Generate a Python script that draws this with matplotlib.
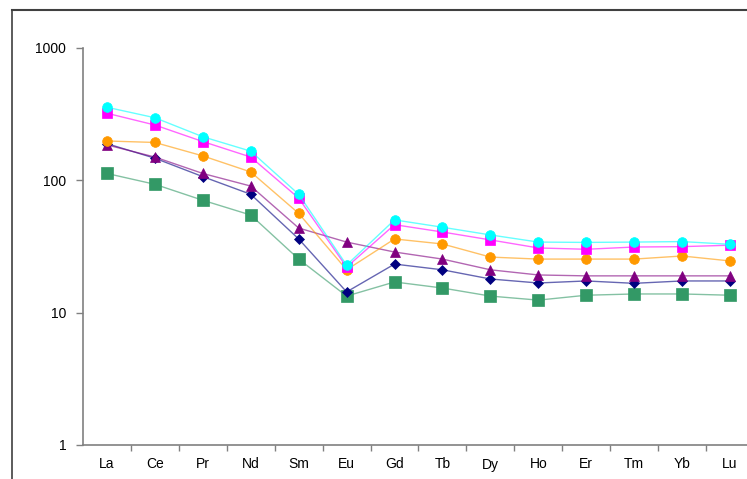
import matplotlib
matplotlib.use("Agg")
import matplotlib.pyplot as plt
from matplotlib.lines import Line2D
import numpy as np

plt.rcParams["font.family"] = ["Liberation Sans", "DejaVu Sans"]

# ── data: chondrite-normalised REE ─────────────────────────────────────────────
elements = ["La", "Ce", "Pr", "Nd", "Sm", "Eu", "Gd", "Tb", "Dy", "Ho", "Er", "Tm", "Yb", "Lu"]

green  = [112, 92.8, 70.3, 54.4, 25.3, 13.3, 17.0, 15.3, 13.3, 12.4, 13.5, 13.8, 13.8, 13.5]
navy   = [188, 146, 106, 78, 35.9, 14.3, 23.2, 21.0, 17.9, 16.7, 17.3, 16.6, 17.3, 17.3]
purple = [184, 149, 112, 90, 43.4, 34.0, 28.6, 25.3, 21.0, 19.2, 18.9, 18.9, 18.9, 18.9]
orange = [197, 192, 152, 115, 56.0, 21.0, 35.9, 32.9, 26.2, 25.3, 25.3, 25.3, 26.7, 24.5]
magenta = [319, 260, 195, 149, 73.0, 22.0, 46.0, 40.5, 35.3, 30.7, 30.0, 31.2, 31.4, 32.2]
cyan   = [354, 295, 212, 165, 78.0, 22.8, 50.0, 44.0, 38.5, 34.0, 33.8, 34.0, 34.3, 32.7]

# ── styles (drawn bottom to top) ──────────────────────────────────────────────
STYLES = [
    (green,   "#339966", "s", 9.0),
    (navy,    "#000080", "D", 5.0),
    (purple,  "#800080", "^", 7.0),
    (orange,  "#FF9900", "o", 7.0),
    (magenta, "#FF00FF", "s", 6.5),
    (cyan,    "#00FFFF", "o", 7.0),
]

W, H = 747, 479
fig = plt.figure(figsize=(W / 100, H / 100), dpi=100)

# plot area: left 83px, right 754px (runs off the edge), top 47.5px, bottom 445px
ax = fig.add_axes([83 / W, (H - 445) / H, (754 - 83) / W, (445 - 47.5) / H])

x = np.arange(len(elements))
for vals, col, mk, ms in STYLES:
    rgb = matplotlib.colors.to_rgb(col)
    ax.plot(x, vals, color=(*rgb, 0.6), linewidth=1.0,
            marker=mk, markersize=ms, markerfacecolor=col, markeredgecolor=col,
            markeredgewidth=0.5)

ax.set_yscale("log")
ax.set_ylim(1, 1000)
ax.set_yticks([1, 10, 100, 1000])
ax.set_yticklabels(["1", "10", "100", "1000"], fontsize=10)
ax.yaxis.set_minor_locator(matplotlib.ticker.NullLocator())

ax.set_xlim(-0.5, len(elements) - 0.5)
ax.set_xticks(x)
ax.set_xticklabels(elements, fontsize=10)
ax.set_xticks(np.arange(len(elements)) + 0.5, minor=True)
ax.tick_params(axis="x", which="major", length=0, pad=9)
ax.tick_params(axis="x", which="minor", length=4, width=1, color="#808080")
ax.tick_params(axis="y", which="major", length=5, width=1, color="#808080", pad=7)

for s in ("top", "right"):
    ax.spines[s].set_visible(False)
for s in ("left", "bottom"):
    ax.spines[s].set_color("#808080")
    ax.spines[s].set_linewidth(1.2)

# outer chart border (top and left edges visible)
fig.add_artist(Line2D([12 / W, 1.0], [1 - 10 / H, 1 - 10 / H],
                      transform=fig.transFigure, color="#404040", linewidth=1.5))
fig.add_artist(Line2D([12 / W, 12 / W], [0.0, 1 - 10 / H],
                      transform=fig.transFigure, color="#404040", linewidth=1.2))

fig.savefig("out.png", dpi=100)
